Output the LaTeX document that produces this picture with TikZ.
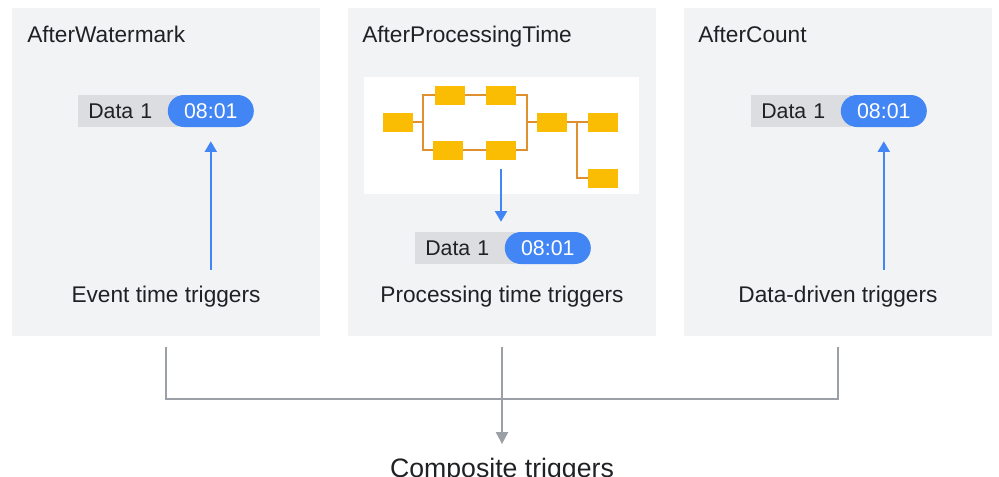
\documentclass[tikz,border=0pt]{standalone}
\usepackage{fontspec}
\setmainfont{Liberation Sans}
\usepackage{tikz}
\usetikzlibrary{arrows.meta, positioning}
\definecolor{PanelGray}{HTML}{F1F3F4}
\definecolor{ChipGray}{HTML}{DCDDE0}
\definecolor{ChipBlue}{HTML}{4285F4}
\definecolor{StepYellow}{HTML}{FBBC04}
\definecolor{WireOrange}{HTML}{E0912F}
\definecolor{LinkGray}{HTML}{9AA0A6}
\definecolor{InkGray}{HTML}{202124}
\def\TitleFont{\fontsize{17}{20}\selectfont}
\def\ChipFont{\fontsize{16}{19}\selectfont}

\begin{document}
\begin{tikzpicture}[x=0.75pt, y=-0.75pt,
   panel/.style = {fill=PanelGray, minimum width=231pt, minimum height=246pt, inner sep=0pt},
   title/.style = {anchor=base west, inner sep=0pt, text=InkGray, font=\TitleFont},
 caption/.style = {anchor=base, inner sep=0pt, text=InkGray, font=\TitleFont},
    chip/.style = {anchor=west, fill=ChipGray, text=InkGray, text width=60pt, align=left,
                   inner xsep=7.5pt, inner ysep=0pt, minimum height=24pt, font=\ChipFont},
   stamp/.style = {fill=ChipBlue, text=white, rounded corners=12pt, inner sep=0pt,
                   minimum width=64.5pt, minimum height=24pt, font=\ChipFont},
 stepbox/.style = {fill=StepYellow, minimum width=22.5pt, minimum height=14.25pt, inner sep=0pt},
    wire/.style = {draw=WireOrange, line width=1.5pt},
    trig/.style = {draw=ChipBlue, line width=1.5pt, -{Triangle[length=8pt, width=9pt]}},
    link/.style = {draw=LinkGray, line width=1.5pt}
                        ]
\useasboundingbox (0,0) rectangle (999,476);
% three kinds of triggers
\node[panel] (wm)  at (166,172) {};
\node[panel] (pt)  at (502,172) {};
\node[panel] (cnt) at (838,172) {};
\node[title] (wmtitle)  at (27,42)  {AfterWatermark};
\node[title] (pttitle)  at (362,42) {AfterProcessingTime};
\node[title] (cnttitle) at (698,42) {AfterCount};

% event time
\node[chip] (d1) at (78,111) {Data 1};
\node[stamp, right=-8.25pt of d1] (s1) {08:01};
\node[caption] (evt) at (166,302) {Event time triggers};
\draw[trig, shorten <=11.5pt, shorten >=10.5pt] (evt.north -| s1) -- (s1.south);

% processing time
\node[fill=white, minimum width=206.25pt, minimum height=87.75pt] (flow) at (501.5,135.5) {};
\node[stepbox] (b1) at (398,122) {};
\node[stepbox] (b2) at (450,95)  {};
\node[stepbox] (b3) at (501,95)  {};
\node[stepbox] (b4) at (448,150) {};
\node[stepbox] (b5) at (501,150) {};
\node[stepbox] (b6) at (552,122) {};
\node[stepbox] (b7) at (603,122) {};
\node[stepbox] (b8) at (603,178) {};
\coordinate (j1) at (423,122);
\coordinate (j2) at (527,122);
\coordinate (j3) at (577,122);
\draw[wire] (b1) -- (j1);
\draw[wire] (b2.west) -| (j1) |- (b4.west);
\draw[wire] (b2) -- (b3);
\draw[wire] (b4) -- (b5);
\draw[wire] (b3.east) -| (j2) |- (b5.east);
\draw[wire] (j2) -- (b6);
\draw[wire] (b6) -- (b7);
\draw[wire] (j3) |- (b8.west);
\node[chip] (d2) at (415,248) {Data 1};
\node[stamp, right=-8.25pt of d2] (s2) {08:01};
\node[caption] (prc) at (502,302) {Processing time triggers};
\draw[trig, shorten <=6.75pt, shorten >=7.5pt] (b5.south) -- (b5.south |- d2.north);

% data driven
\node[chip] (d3) at (751,111) {Data 1};
\node[stamp, right=-8.25pt of d3] (s3) {08:01};
\node[caption] (drv) at (838,302) {Data-driven triggers};
\draw[trig, shorten <=11.5pt, shorten >=10.5pt] (drv.north -| s3) -- (s3.south);

% composite
\coordinate (bus) at (502,399);
\node[caption, font=\fontsize{20}{24}\selectfont] (comp) at (502,477) {Composite triggers};
\draw[link, shorten <=8.25pt, shorten >=8.25pt] (wm.south) |- (bus) -| (cnt.south);
\draw[link, -{Triangle[length=9pt, width=9pt]}, shorten <=8.25pt, shorten >=10pt] (pt.south) -- (comp.north);
\end{tikzpicture}
\end{document}
